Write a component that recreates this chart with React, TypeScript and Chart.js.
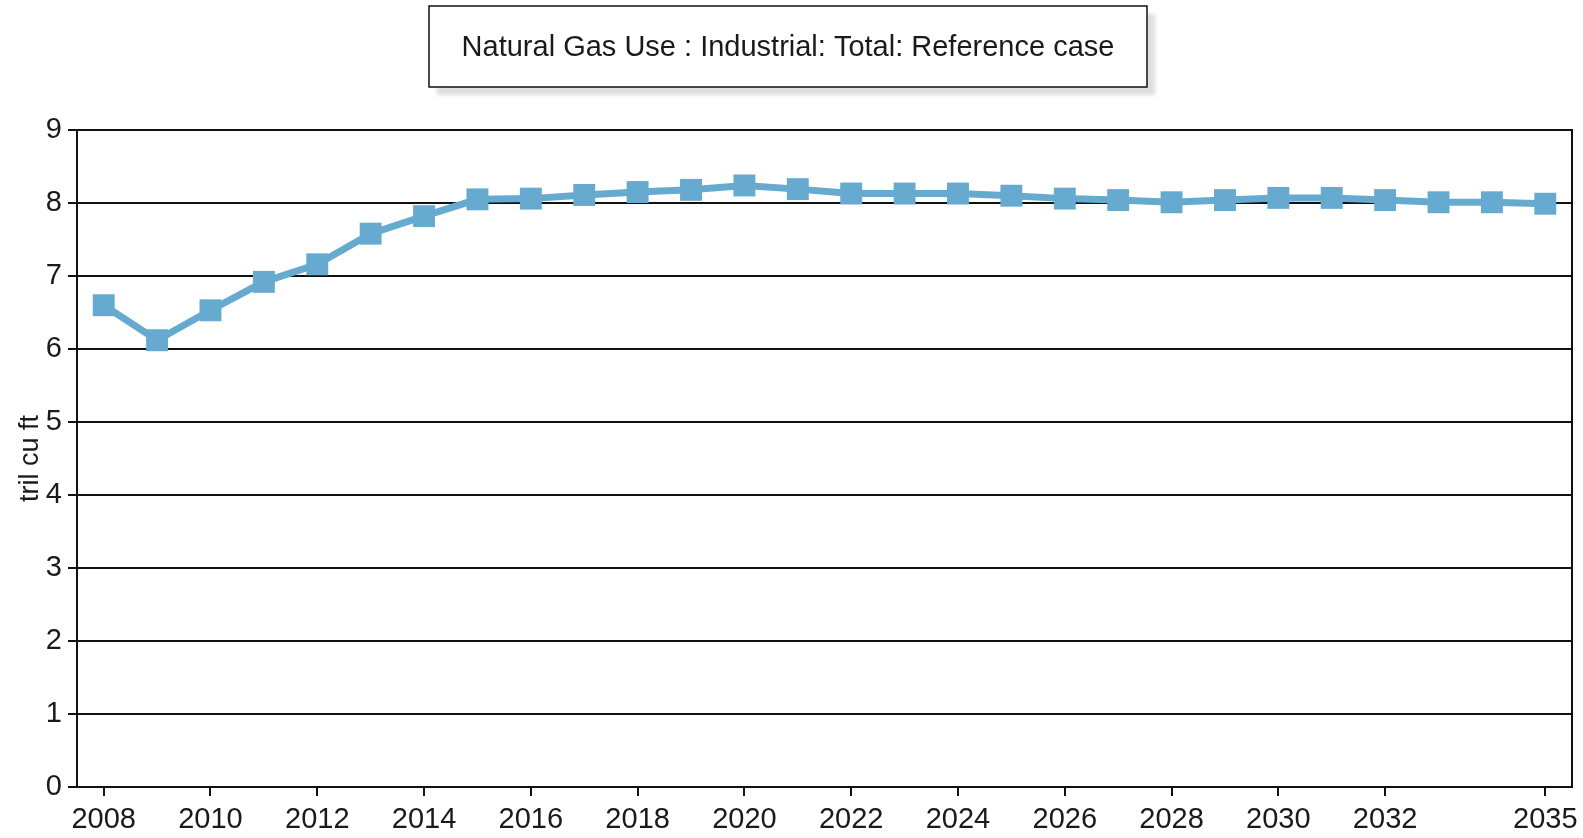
import React, { useEffect, useRef } from "react";
import { Chart, registerables } from "chart.js";

Chart.register(...registerables);

const years: string[] = [
  "2008", "2009", "2010", "2011", "2012", "2013", "2014", "2015", "2016", "2017",
  "2018", "2019", "2020", "2021", "2022", "2023", "2024", "2025", "2026", "2027",
  "2028", "2029", "2030", "2031", "2032", "2033", "2034", "2035",
];
const industrialGas: number[] = [
  6.60, 6.12, 6.53, 6.92, 7.16, 7.58, 7.82, 8.05, 8.06, 8.11,
  8.15, 8.18, 8.24, 8.19, 8.13, 8.13, 8.13, 8.10, 8.06, 8.04,
  8.01, 8.04, 8.07, 8.07, 8.04, 8.01, 8.01, 7.99,
];
const shownYearLabels: string[] = [
  "2008", "2010", "2012", "2014", "2016", "2018", "2020", "2022", "2024",
  "2026", "2028", "2030", "2032", "2035",
];
const seriesLabel = "Natural Gas Use : Industrial: Total: Reference case";
const yAxisTitle = "tril cu ft";

const FONT = "'Liberation Sans', Arial, sans-serif";

const boxLegendPlugin = {
  id: "boxLegend",
  afterDraw(chart: any) {
    const ctx = chart.ctx;
    const x = 429, y = 6, w = 718, h = 81;
    ctx.save();
    ctx.fillStyle = "rgba(0,0,0,0.13)";
    ctx.filter = "blur(2px)";
    ctx.fillRect(x + 8, y + 8, w, h);
    ctx.filter = "none";
    ctx.fillStyle = "#fff";
    ctx.fillRect(x, y, w, h);
    ctx.strokeStyle = "#111";
    ctx.lineWidth = 1.5;
    ctx.strokeRect(x, y, w, h);
    ctx.fillStyle = "#1a1a1a";
    ctx.font = `29px ${FONT}`;
    ctx.textAlign = "center";
    ctx.textBaseline = "middle";
    ctx.fillText(chart.data.datasets[0].label, x + w / 2, y + h / 2 + 1);
    ctx.restore();
  },
};

const frameRightPlugin = {
  id: "frameRight",
  afterDatasetsDraw(chart: any) {
    const { ctx, chartArea } = chart;
    ctx.save();
    ctx.strokeStyle = "#111";
    ctx.lineWidth = 2;
    ctx.beginPath();
    ctx.moveTo(chartArea.right, chartArea.top - 1);
    ctx.lineTo(chartArea.right, chartArea.bottom + 1);
    ctx.stroke();
    ctx.restore();
  },
};

export default function App() {
  const ref = useRef<HTMLCanvasElement | null>(null);
  useEffect(() => {
    if (!ref.current) return;
    const chart = new Chart(ref.current, {
      type: "line",
      data: {
        labels: years,
        datasets: [
          {
            label: seriesLabel,
            data: industrialGas,
            borderColor: "#66aad0",
            backgroundColor: "#66aad0",
            borderWidth: 7,
            pointStyle: "rect",
            pointRadius: 15.5,
            pointHoverRadius: 15.5,
            pointBorderWidth: 0,
            tension: 0,
            clip: false,
          },
        ],
      },
      options: {
        responsive: false,
        animation: false,
        layout: { autoPadding: false, padding: { top: 130, right: 11, left: 0, bottom: 0 } },
        plugins: {
          legend: { display: false },
          title: { display: false },
          tooltip: { enabled: false },
        },
        scales: {
          x: {
            type: "category",
            offset: true,
            afterFit(scale: any) {
              scale.height = 51;
              scale.paddingLeft = 0;
              scale.paddingRight = 0;
            },
            grid: {
              display: true,
              drawOnChartArea: false,
              drawTicks: true,
              tickLength: 9,
              color: "#111",
              lineWidth: 2,
              offset: false,
            },
            border: { display: true, color: "#111", width: 2 },
            ticks: {
              autoSkip: false,
              maxRotation: 0,
              minRotation: 0,
              padding: 7,
              color: "#1a1a1a",
              font: { family: FONT, size: 29 },
              callback(value: any) {
                const lab = years[value as number];
                return shownYearLabels.includes(lab) ? lab : null;
              },
            },
          },
          y: {
            min: 0,
            max: 9,
            afterFit(scale: any) {
              scale.width = 77;
            },
            grid: {
              color: "#111",
              lineWidth: 2,
              tickLength: 9,
            },
            border: { display: true, color: "#111", width: 2 },
            ticks: {
              stepSize: 1,
              padding: 6,
              color: "#1a1a1a",
              font: { family: FONT, size: 29 },
            },
            title: {
              display: true,
              text: yAxisTitle,
              color: "#1a1a1a",
              font: { family: FONT, size: 27 },
              padding: { top: 14, bottom: 0 },
            },
          },
        },
      },
      plugins: [boxLegendPlugin, frameRightPlugin],
    });
    return () => chart.destroy();
  }, []);
  return (
    <div style={{ position: "absolute", left: 0, top: 0, width: 1583, height: 838, background: "#fff" }}>
      <canvas ref={ref} width={1583} height={838} style={{ display: "block" }} />
    </div>
  );
}
